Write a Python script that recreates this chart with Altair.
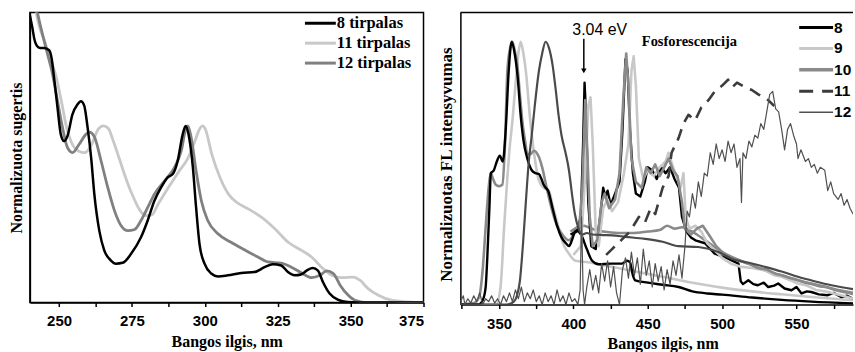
import altair as alt
import pandas as pd

# ---------------- Left panel: normalized absorption ----------------
abs_names = ["8 tirpalas", "11 tirpalas", "12 tirpalas"]
abs_colors = ["#000000", "#c8c8c8", "#808080"]

abs8_nm = [240, 240.8, 241.5, 242.6, 243.5, 244.9, 246.6, 247.4, 248.3, 249.5, 250.6, 251.7, 252.9, 254.6,
           256.3, 257.5, 258.6, 259.8, 261, 262.1, 263.8, 265.5, 267.8, 269.5, 271.8, 274.7, 278.1, 280.4,
           282.7, 285, 287.2, 289, 290.7, 292.4, 293.4, 294.4, 295.9, 297, 298.2, 299.9, 302.2, 304.5,
           307.9, 312.5, 317, 320.5, 323.3, 326.2, 328.5, 330.8, 333, 335.3, 337, 338.8, 340.5, 342.8,
           345.6, 349, 356, 375]
abs8_val = [0.99, 0.95, 0.91, 0.883, 0.878, 0.878, 0.87, 0.845, 0.775, 0.67, 0.58, 0.557, 0.575, 0.649,
            0.683, 0.694, 0.68, 0.603, 0.5, 0.374, 0.248, 0.18, 0.145, 0.134, 0.137, 0.168, 0.225, 0.283,
            0.351, 0.397, 0.431, 0.443, 0.489, 0.58, 0.609, 0.58, 0.466, 0.328, 0.2, 0.134, 0.1, 0.09,
            0.094, 0.102, 0.105, 0.122, 0.132, 0.128, 0.105, 0.094, 0.097, 0.113, 0.119, 0.11, 0.071, 0.031,
            0.01, 0.002, 0.0, 0.0]

abs11_nm = [240, 242.2, 245.1, 247.4, 249.1, 250.8, 252.6, 254.3, 256.6, 258.9, 261.2, 263.4, 265.2, 266.9,
            268.6, 270.9, 273.2, 275.5, 277.8, 280.1, 281.8, 284, 287.5, 290.9, 294.3, 296.6, 298.3, 299.2,
            300.1, 302.4, 305.2, 308.1, 310.9, 314.9, 319.5, 324.1, 328.6, 333.2, 336.6, 340, 343.5, 346.9,
            350.9, 353.2, 356, 359.5, 364, 369.8, 375]
abs11_val = [1.2, 1.0, 0.9, 0.832, 0.775, 0.694, 0.603, 0.551, 0.523, 0.517, 0.546, 0.597, 0.609, 0.6,
             0.557, 0.489, 0.42, 0.363, 0.317, 0.3, 0.302, 0.34, 0.397, 0.449, 0.5, 0.557, 0.6, 0.609,
             0.6, 0.511, 0.431, 0.374, 0.346, 0.323, 0.294, 0.254, 0.208, 0.18, 0.157, 0.122, 0.094, 0.086,
             0.088, 0.077, 0.048, 0.025, 0.008, 0.002, 0.0]

abs12_nm = [240, 242.6, 245.5, 247.8, 249.5, 251.2, 252.9, 254.6, 256.9, 259.2, 260.4, 262.1, 264.4, 266.7,
            269, 271.3, 273.6, 275.9, 278.1, 280.4, 282.7, 286.2, 289.6, 291.9, 293.6, 294.2, 295.3, 297,
            298.8, 301, 304.5, 309, 313.6, 318.2, 321.6, 326.2, 329.7, 333.2, 336.6, 339.5, 341.8, 344.1,
            346.4, 349.2, 351.5, 356, 375]
abs12_val = [1.15, 1.0, 0.878, 0.786, 0.694, 0.603, 0.534, 0.517, 0.546, 0.58, 0.588, 0.572, 0.489, 0.397,
             0.317, 0.265, 0.248, 0.252, 0.283, 0.328, 0.374, 0.42, 0.466, 0.523, 0.603, 0.609, 0.57, 0.454,
             0.351, 0.283, 0.237, 0.208, 0.182, 0.157, 0.14, 0.136, 0.122, 0.102, 0.086, 0.094, 0.109, 0.1,
             0.06, 0.025, 0.008, 0.0, 0.0]

abs_ticks = [250, 262.5, 275, 287.5, 300, 312.5, 325, 337.5, 350, 362.5, 375]

# ---------------- Right panel: FL / phosphorescence ----------------
pl_names = ["8", "9", "10", "11", "12"]

fl8_nm = [324, 336, 339, 341, 342, 343.5, 344.5, 346.5, 348.5, 350.5, 352.5, 354.5, 356.5, 358.5, 360.5,
          362.5, 364.5, 366.5, 369, 372, 374.5, 376.8, 378.5, 380, 381.3, 383, 386, 389, 392, 395, 397,
          399, 401.4, 403.5, 406, 409, 412.6, 417, 425, 432.7, 436, 438, 440, 441.6, 450, 460, 470.7, 480,
          490, 500, 520, 540, 560, 588]
fl8_val = [0.0, 0.0, 0.015, 0.06, 0.15, 0.33, 0.45, 0.46, 0.49, 0.51, 0.49, 0.6, 0.8, 0.9, 0.86,
           0.78, 0.65, 0.56, 0.5, 0.46, 0.45, 0.447, 0.43, 0.41, 0.4, 0.39, 0.33, 0.27, 0.23, 0.21, 0.2,
           0.22, 0.254, 0.25, 0.23, 0.19, 0.15, 0.138, 0.14, 0.14, 0.15, 0.145, 0.1, 0.083, 0.075, 0.068,
           0.06, 0.045, 0.038, 0.034, 0.024, 0.016, 0.01, 0.004]

fl9_nm = [324, 348, 351, 353.4, 355.6, 357, 359, 361, 363, 364.5, 366, 368, 371, 373.5, 376.8, 380, 383.5,
          386, 390, 393, 397, 401.4, 410, 420, 430, 440, 450, 460, 470, 480, 490, 500, 520, 540, 560, 588]
fl9_val = [0.0, 0.0, 0.06, 0.265, 0.436, 0.53, 0.63, 0.75, 0.86, 0.9, 0.87, 0.8, 0.63, 0.52, 0.425, 0.4,
           0.39, 0.34, 0.265, 0.21, 0.174, 0.15, 0.145, 0.135, 0.125, 0.115, 0.105, 0.095, 0.085, 0.075,
           0.066, 0.058, 0.045, 0.035, 0.026, 0.015]

fl10_nm = [324, 333, 336.6, 339, 341, 343, 344.4, 346, 347.8, 350, 352.2, 354, 355.6, 357.5, 358.9, 360.5,
           362.3, 364, 365.6, 367.5, 369, 371, 373.5, 376.8, 379, 382, 385.8, 389, 392.5, 397, 401, 404,
           407, 410, 415, 420, 430, 440, 450, 458, 463, 468, 473, 478, 483, 490, 500, 510, 520, 530, 540,
           550, 560, 570, 580, 588]
fl10_val = [0.0, 0.005, 0.026, 0.12, 0.265, 0.4, 0.45, 0.43, 0.41, 0.405, 0.41, 0.55, 0.8, 0.88, 0.9, 0.87,
            0.82, 0.72, 0.63, 0.56, 0.516, 0.515, 0.527, 0.505, 0.47, 0.4, 0.32, 0.27, 0.24, 0.22, 0.245,
            0.26, 0.27, 0.265, 0.255, 0.25, 0.245, 0.245, 0.25, 0.255, 0.27, 0.26, 0.265, 0.255, 0.24,
            0.215, 0.18, 0.155, 0.135, 0.115, 0.1, 0.085, 0.072, 0.06, 0.048, 0.04]

fl11_nm = [324, 355, 360, 362, 364, 366, 368, 370, 372, 374, 376.8, 379, 381.3, 383.5, 386, 388, 390, 392,
           394.7, 397, 399, 401, 403.5, 406, 409, 412.6, 420, 426, 435, 448, 460, 470.7, 484, 497.5, 506.4,
           518, 528.8, 540, 551, 562, 573.5, 588]
fl11_val = [0.0, 0.0, 0.01, 0.03, 0.08, 0.2, 0.35, 0.49, 0.58, 0.68, 0.8, 0.86, 0.9, 0.88, 0.82, 0.74, 0.65,
            0.58, 0.52, 0.46, 0.38, 0.31, 0.26, 0.24, 0.245, 0.24, 0.238, 0.237, 0.232, 0.225, 0.215, 0.2,
            0.197, 0.18, 0.157, 0.143, 0.129, 0.113, 0.095, 0.08, 0.066, 0.053]

ph8_nm = [398, 402, 405, 406.5, 407.5, 408.5, 410, 412, 415, 418, 420, 421.5, 423, 425, 428, 431, 433, 435,
          436.5, 438, 440, 442, 445, 448, 450, 453, 456, 459, 462, 465, 468, 471, 473, 476, 479, 482, 488.5,
          495, 504, 511, 512.5, 514, 517.6, 521, 524, 528, 531, 535, 537.7, 542, 546.6, 550, 553.4, 557,
          560, 565, 571, 575, 580, 584, 588]
ph8_val = [0.24, 0.25, 0.3, 0.55, 0.76, 0.65, 0.35, 0.2, 0.19, 0.3, 0.4, 0.37, 0.39, 0.34, 0.38, 0.42, 0.6,
           0.84, 0.8, 0.6, 0.45, 0.38, 0.37, 0.42, 0.47, 0.46, 0.43, 0.47, 0.45, 0.47, 0.43, 0.4, 0.3, 0.25,
           0.23, 0.22, 0.21, 0.174, 0.157, 0.14, 0.08, 0.07, 0.083, 0.07, 0.066, 0.075, 0.06, 0.065, 0.072,
           0.055, 0.049, 0.06, 0.038, 0.045, 0.043, 0.035, 0.032, 0.04, 0.026, 0.03, 0.02]

ph9_nm = [400, 405, 408, 410, 411.5, 413, 415, 417, 420, 423, 426, 430, 434, 437, 439, 440.5, 442, 444, 447,
          450, 454, 458, 462, 464, 467, 470, 472, 474, 475.5, 478, 482, 486, 490, 495, 500, 506, 512, 520,
          529, 535, 540, 545, 551, 557, 563, 570, 577, 583, 588]
ph9_val = [0.17, 0.2, 0.45, 0.68, 0.71, 0.55, 0.25, 0.2, 0.33, 0.36, 0.32, 0.35, 0.45, 0.55, 0.8, 0.85,
           0.75, 0.5, 0.43, 0.46, 0.44, 0.47, 0.49, 0.52, 0.47, 0.43, 0.4, 0.45, 0.3, 0.26, 0.27, 0.25,
           0.21, 0.186, 0.16, 0.14, 0.13, 0.125, 0.117, 0.1, 0.095, 0.085, 0.072, 0.065, 0.05, 0.045, 0.035,
           0.028, 0.02]

ph10_nm = [398, 404, 406, 408, 409.5, 411, 413, 416, 419, 421, 424, 428, 431, 433.5, 435.5, 437, 439, 442,
           446, 449, 452, 455, 458, 461, 464, 467, 470, 473, 475, 479, 483, 487, 491, 496, 500, 506, 512,
           518, 524, 530, 536, 540, 546, 550, 556, 560, 566, 570, 576, 580, 585, 588]
ph10_val = [0.25, 0.27, 0.4, 0.7, 0.5, 0.3, 0.2, 0.22, 0.35, 0.38, 0.33, 0.36, 0.45, 0.7, 0.86, 0.75, 0.5,
            0.42, 0.4, 0.47, 0.45, 0.48, 0.44, 0.47, 0.5, 0.46, 0.44, 0.35, 0.26, 0.24, 0.26, 0.27, 0.24,
            0.2, 0.18, 0.16, 0.15, 0.14, 0.125, 0.12, 0.105, 0.1, 0.09, 0.085, 0.075, 0.07, 0.062, 0.06,
            0.05, 0.045, 0.04, 0.035]

ph11_nm = [422, 426, 432, 438, 444, 448, 452, 455, 460, 464, 466, 470.7, 474, 477.4, 481.8, 486, 490.8, 495,
           500, 504, 507, 510, 515.4, 520, 524.3, 528, 531, 535]
ph11_val = [0.17, 0.19, 0.22, 0.25, 0.3, 0.28, 0.33, 0.31, 0.4, 0.44, 0.52, 0.57, 0.62, 0.65, 0.63, 0.675,
            0.7, 0.73, 0.75, 0.77, 0.745, 0.76, 0.744, 0.735, 0.72, 0.71, 0.7, 0.68]

ph12_nm = [324, 326, 327, 329, 331, 333, 335, 337, 339, 341, 343, 345, 347, 349, 351, 353, 355, 357, 359,
           361, 363, 365, 367, 369, 371, 373, 375, 377, 379, 381, 383, 385, 387, 389, 391, 393, 395, 397,
           399, 401, 403, 404.5, 405.5, 406.5, 407.5, 409, 411, 413, 415, 417, 419, 421, 423, 425, 427, 429,
           431, 433, 435, 437, 439, 441, 443, 445, 447, 449, 451, 453, 455, 457, 459, 461, 463, 465, 467,
           469, 471, 473, 475, 476.5, 478, 480, 482, 484, 486, 488, 490, 492, 494, 496, 498, 500, 502, 504,
           506, 508, 510, 512, 513, 514, 516, 518, 520, 522, 524, 526, 528, 530, 532, 534, 536, 538, 540,
           542, 544, 546, 548, 550, 551, 553, 556, 558, 560, 562, 564, 566, 569, 571, 573, 575, 578, 580,
           582, 584, 586, 588]
ph12_val = [0.01, 0.03, 0.0, 0.02, 0.005, 0.03, 0.01, 0.04, 0.0, 0.02, 0.01, 0.03, 0.005, 0.02, 0.0, 0.03,
            0.01, 0.04, 0.01, 0.05, 0.02, 0.06, 0.01, 0.04, 0.02, 0.05, 0.01, 0.03, 0.0, 0.04, 0.01, 0.03,
            0.0, 0.05, 0.01, 0.03, 0.0, 0.04, 0.01, 0.02, 0.0, 0.05, 0.3, 0.05, 0.0, 0.06, 0.12, 0.05, 0.1,
            0.04, 0.14, 0.08, 0.15, 0.06, 0.13, 0.04, 0.0, 0.12, 0.16, 0.09, 0.18, 0.1, 0.16, 0.07, 0.19,
            0.1, 0.15, 0.06, 0.14, 0.08, 0.13, 0.05, 0.12, 0.07, 0.15, 0.1, 0.17, 0.09, 0.2, 0.32, 0.3,
            0.38, 0.33, 0.42, 0.37, 0.45, 0.44, 0.52, 0.48, 0.55, 0.5, 0.53, 0.49, 0.56, 0.52, 0.55, 0.47,
            0.5, 0.35, 0.52, 0.5, 0.56, 0.54, 0.58, 0.57, 0.62, 0.6, 0.66, 0.72, 0.73, 0.67, 0.66, 0.6,
            0.53, 0.6, 0.62, 0.58, 0.55, 0.5, 0.53, 0.49, 0.5, 0.47, 0.48, 0.45, 0.47, 0.46, 0.39, 0.42,
            0.38, 0.36, 0.38, 0.34, 0.36, 0.33, 0.31]

pl_ticks = [325, 350, 375, 400, 425, 450, 475, 500, 525, 550, 575]

annot_text = ["3.04 eV", "Fosforescencija"]
annot_nm = [417.7, 478]
annot_val = [0.94, 0.898]
arrow_nm = [407]
arrow_from = [0.91]
arrow_to = [0.80]

SERIF = "Liberation Serif"
SANS = "Liberation Sans"

LW, LH = 395, 291
RW, RH = 394, 293


def curve(nm, val, xdef, ydef, color, width, dash=None, interp="monotone"):
    df = pd.DataFrame({"nm": nm, "val": val, "i": list(range(len(nm)))})
    kw = dict(color=color, strokeWidth=width, clip=True, interpolate=interp, strokeJoin="round")
    if dash:
        kw["strokeDash"] = dash
    return alt.Chart(df).mark_line(**kw).encode(x=xdef, y=ydef, order="i:Q")


def legend_row(label, x1, x2, y, tx, color, width, font, size, dash=None):
    df = pd.DataFrame({"label": [label]})
    kw = dict(color=color, strokeWidth=width)
    if dash:
        kw["strokeDash"] = dash
    line = alt.Chart(df).mark_rule(**kw).encode(
        x=alt.value(x1), x2=alt.value(x2), y=alt.value(y))
    txt = alt.Chart(df).mark_text(align="left", baseline="middle", font=font, fontSize=size,
                                  fontWeight="bold", color="black", clip=True).encode(
        x=alt.value(tx), y=alt.value(y), text="label:N")
    return [line, txt]


# ---------- Left chart ----------
lx = alt.X("nm:Q", scale=alt.Scale(domain=[240, 375], nice=False, zero=False),
           axis=alt.Axis(values=abs_ticks, format="d",
                         labelExpr="datum.value % 25 === 0 ? datum.label : ''",
                         title="Bangos ilgis, nm", titleFont=SERIF, titleFontSize=16,
                         titleFontWeight="bold", titleColor="black", titlePadding=5,
                         labelFont=SANS, labelFontSize=15, labelFontWeight="bold", labelColor="black",
                         labelPadding=7, tickSize=4, tickColor="black", tickWidth=1.5,
                         domainColor="black", domainWidth=1.5, grid=False, labelOverlap=False))
ly = alt.Y("val:Q", scale=alt.Scale(domain=[0, 1], nice=False),
           axis=alt.Axis(title="Normalizuota sugertis", titleFont=SERIF, titleFontSize=16,
                         titleFontWeight="bold", titleColor="black", titlePadding=5,
                         labels=False, ticks=False, domainColor="black", domainWidth=1.5, grid=False))

left_layers = [
    curve(abs11_nm, abs11_val, lx, ly, abs_colors[1], 2.8),
    curve(abs12_nm, abs12_val, lx, ly, abs_colors[2], 2.8),
    curve(abs8_nm, abs8_val, lx, ly, abs_colors[0], 2.5),
]
for k, (nm_, col) in enumerate(zip(abs_names, abs_colors)):
    left_layers += legend_row(nm_, 276, 307, 10.7 + 20 * k, 308, col, 3, SERIF, 16.5)

left = alt.layer(*left_layers).properties(
    width=LW, height=LH, view=alt.ViewBackground(stroke="black", strokeWidth=1.5))

# ---------- Right chart ----------
rx = alt.X("nm:Q", scale=alt.Scale(domain=[324, 588], nice=False, zero=False),
           axis=alt.Axis(values=pl_ticks, format="d",
                         labelExpr="datum.value % 50 === 0 ? datum.label : ''",
                         title="Bangos ilgis, nm", titleFont=SERIF, titleFontSize=16,
                         titleFontWeight="bold", titleColor="black", titlePadding=4, titleX=203,
                         labelFont=SANS, labelFontSize=15, labelFontWeight="bold", labelColor="black",
                         labelPadding=8, tickSize=4, tickColor="black", tickWidth=1.5,
                         domainColor="black", domainWidth=1.5, grid=False, labelOverlap=False))
ry = alt.Y("val:Q", scale=alt.Scale(domain=[0, 1], nice=False),
           axis=alt.Axis(title="Normalizuotas FL intensyvumas", titleFont=SERIF, titleFontSize=17,
                         titleFontWeight="bold", titleColor="black", titlePadding=5, titleY=152,
                         labels=False, ticks=False, domainColor="black", domainWidth=1.5, grid=False))
ry2 = alt.Y2("val2:Q")

LIGHT, MID, DARK = "#c8c8c8", "#8a8a8a", "#454545"
right_layers = [
    curve(fl9_nm, fl9_val, rx, ry, LIGHT, 2.6),
    curve(fl10_nm, fl10_val, rx, ry, MID, 2.6),
    curve(fl8_nm, fl8_val, rx, ry, "#000000", 2.4),
    curve(ph8_nm, ph8_val, rx, ry, "#000000", 2.4, interp="linear"),
    curve(ph9_nm, ph9_val, rx, ry, LIGHT, 2.6, interp="linear"),
    curve(ph10_nm, ph10_val, rx, ry, MID, 2.6, interp="linear"),
    curve(fl11_nm, fl11_val, rx, ry, "#4a4a4a", 2.2),
    curve(ph11_nm, ph11_val, rx, ry, "#3c3c3c", 2.6, dash=[12, 8], interp="linear"),
    curve(ph12_nm, ph12_val, rx, ry, "#505050", 1.2, interp="linear"),
]

# frame top
right_layers.append(alt.Chart(pd.DataFrame({"a": [0]})).mark_rule(color="black", strokeWidth=1.5).encode(
    x=alt.value(0), x2=alt.value(RW), y=alt.value(0)))

# arrow and annotations
arr = pd.DataFrame({"nm": arrow_nm, "val": arrow_from, "val2": arrow_to})
right_layers.append(alt.Chart(arr).mark_rule(color="black", strokeWidth=1.5).encode(
    x=rx, y=ry, y2=ry2))
tip = pd.DataFrame({"nm": arrow_nm, "val": arrow_to})
right_layers.append(alt.Chart(tip).mark_point(shape="triangle-down", filled=True, color="black",
                                              size=30, opacity=1).encode(x=rx, y=ry))
ann = pd.DataFrame({"t": annot_text, "nm": annot_nm, "val": annot_val})
right_layers.append(alt.Chart(ann.iloc[[0]]).mark_text(font=SANS, fontSize=16, color="black",
                                                       align="center", baseline="middle").encode(
    x=rx, y=ry, text="t:N"))
right_layers.append(alt.Chart(ann.iloc[[1]]).mark_text(font=SERIF, fontSize=14.5, fontWeight="bold",
                                                       color="black", align="center",
                                                       baseline="middle").encode(
    x=rx, y=ry, text="t:N"))

pl_styles = [("#000000", 3, None), (LIGHT, 3, None), (MID, 3.5, None), ("#3c3c3c", 3, [14, 9]),
             ("#505050", 1.5, None)]
pl_rows = [15, 36, 57.3, 79, 100]
for name, (col, w, d), yy in zip(pl_names, pl_styles, pl_rows):
    right_layers += legend_row(name, 340, 374, yy, 375, col, w, SANS, 15.5, dash=d)

right = alt.layer(*right_layers).properties(
    width=RW, height=RH, view=alt.ViewBackground(stroke="transparent"))

chart = alt.hconcat(left, right, spacing=37, bounds="flush").properties(
    padding={"left": 8, "top": 10, "right": 0, "bottom": 0},
    background="white",
)

chart.save("out.html", embed_options={"renderer": "svg", "actions": False})
